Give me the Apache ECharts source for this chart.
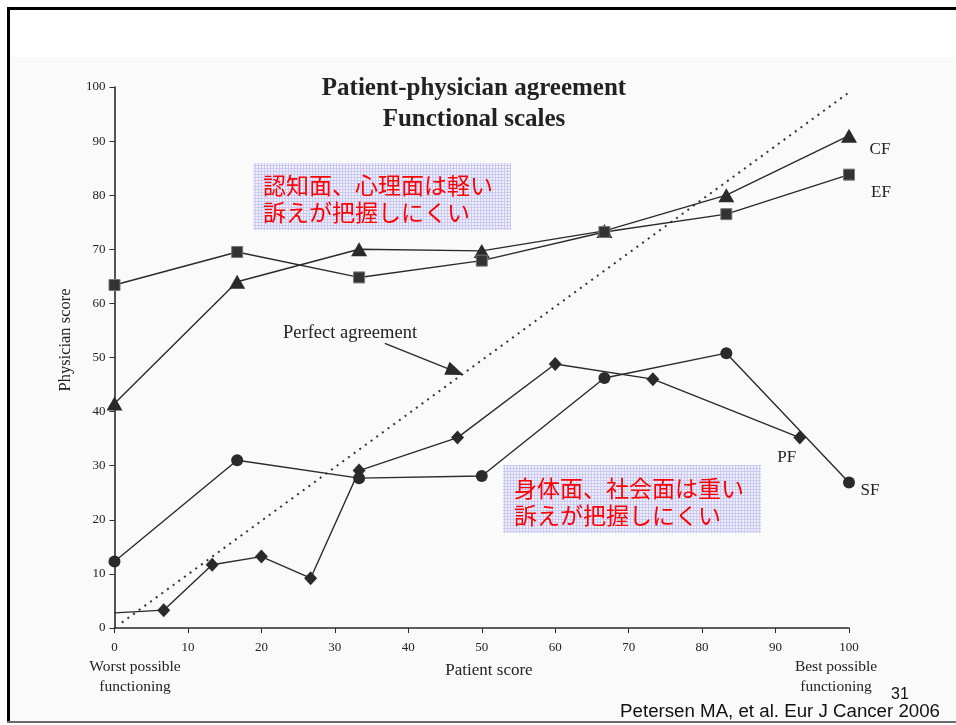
<!DOCTYPE html>
<html>
<head>
<meta charset="utf-8">
<style>
  html, body { margin: 0; padding: 0; background: #fff; }
  #chart { width: 956px; height: 725px; }
</style>
<script src="https://cdn.jsdelivr.net/npm/echarts@6/dist/echarts.min.js"></script>
</head>
<body>
<div id="chart"></div>
<script>
// Patient score levels and mean physician scores per functional scale
const cfPatient = [0, 16.7, 33.3, 50, 66.7, 83.3, 100];
const cfPhysician = [41.5, 64, 70, 69.7, 73.4, 80, 91];

const efPatient = [0, 16.7, 33.3, 50, 66.7, 83.3, 100];
const efPhysician = [63.4, 69.5, 64.8, 67.9, 73.2, 76.5, 83.8];

const sfPatient = [0, 16.7, 33.3, 50, 66.7, 83.3, 100];
const sfPhysician = [12.3, 31, 27.7, 28.1, 46.2, 50.8, 26.9];

const pfPatient = [0, 6.7, 13.3, 20, 26.7, 33.3, 46.7, 60, 73.3, 93.3];
const pfPhysician = [2.8, 3.3, 11.7, 13.2, 9.2, 29.1, 35.2, 48.8, 46, 35.2];

// Line of perfect agreement (physician score = patient score)
const agreeLine = [[1, 1], [100, 99]];
// Arrow from the "Perfect agreement" caption towards the diagonal
const arrowFrom = [36.8, 52.6];
const arrowTo = [46.4, 47.4];

const xTicks = ['0', '10', '20', '30', '40', '50', '60', '70', '80', '90', '100'];

const SERIF = '"Liberation Serif", "DejaVu Serif", serif';
const SANS = '"Liberation Sans", Arial, sans-serif';
const CJK = '"Noto Sans CJK JP", "Noto Sans CJK SC", sans-serif';
const INK = '#2a2a2a';

function pairs(xs, ys) { return xs.map((x, i) => [x, ys[i]]); }

function lastLabel(data, text, offset) {
  const out = data.map(v => ({ value: v }));
  out[out.length - 1].label = {
    show: true, formatter: text, position: 'inside', offset: offset,
    color: '#222', fontFamily: SERIF, fontSize: 17
  };
  return out;
}

// Lavender grid texture for the two note boxes
function notePattern() {
  const c = document.createElement('canvas');
  c.width = 3; c.height = 3;
  const g = c.getContext('2d');
  g.fillStyle = '#f0f0fd';
  g.fillRect(0, 0, 3, 3);
  g.fillStyle = '#c9c9f1';
  g.fillRect(0, 0, 3, 1);
  g.fillRect(0, 0, 1, 3);
  return { image: c, repeat: 'repeat' };
}

const chart = echarts.init(document.getElementById('chart'));

const pfData = lastLabel(pairs(pfPatient, pfPhysician), 'PF', [-13, 20]);
pfData[0].symbol = 'none';

const lineBase = {
  type: 'line',
  lineStyle: { color: INK, width: 1.4 },
  itemStyle: { color: INK },
  symbolKeepAspect: true,
  z: 3
};

chart.setOption({
  animation: false,
  backgroundColor: '#ffffff',
  grid: { left: 114.5, right: 107, top: 87, bottom: 97, containLabel: false },
  xAxis: {
    type: 'value', min: 0, max: 100, interval: 10,
    axisLine: { show: true, lineStyle: { color: INK, width: 1.6 } },
    axisTick: { show: true, length: 5, lineStyle: { color: INK } },
    axisLabel: {
      color: '#222', fontFamily: SERIF, fontSize: 13, margin: 13,
      formatter: (v) => xTicks[Math.round(v / 10)]
    },
    splitLine: { show: false }
  },
  yAxis: {
    type: 'value', min: 0, max: 100, interval: 10,
    axisLine: { show: true, lineStyle: { color: INK, width: 1.6 } },
    axisTick: { show: true, length: 5, lineStyle: { color: INK } },
    axisLabel: { color: '#222', fontFamily: SERIF, fontSize: 13, margin: 9 },
    splitLine: { show: false }
  },
  series: [
    {
      type: 'line', data: agreeLine, symbol: 'none', silent: true,
      lineStyle: { color: '#333', width: 2, type: [2, 5] }, z: 2,
      markLine: {
        silent: true, symbol: ['none', 'triangle'], symbolSize: [14, 18],
        lineStyle: { color: INK, width: 1.4, type: 'solid' },
        label: { show: false },
        data: [[{ coord: arrowFrom }, { coord: arrowTo }]]
      }
    },
    Object.assign({}, lineBase, {
      name: 'CF', data: lastLabel(pairs(cfPatient, cfPhysician), 'CF', [31, 14]),
      symbol: 'triangle', symbolSize: [16, 14]
    }),
    Object.assign({}, lineBase, {
      name: 'EF', data: lastLabel(pairs(efPatient, efPhysician), 'EF', [32, 18]),
      symbol: 'rect', symbolSize: 11,
      itemStyle: { color: '#333', borderColor: '#777', borderWidth: 1 }
    }),
    Object.assign({}, lineBase, {
      name: 'SF', data: lastLabel(pairs(sfPatient, sfPhysician), 'SF', [21, 8]),
      symbol: 'circle', symbolSize: 12
    }),
    Object.assign({}, lineBase, {
      name: 'PF', data: pfData,
      symbol: 'diamond', symbolSize: [13, 14]
    })
  ],
  graphic: [
    // scanned figure backdrop
    { type: 'rect', shape: { x: 10, y: 57, width: 946, height: 664 }, style: { fill: '#fafafa' }, z: -10, silent: true },
    // slide frame
    { type: 'rect', shape: { x: 7, y: 7, width: 949, height: 3 }, style: { fill: '#000' }, z: 20, silent: true },
    { type: 'rect', shape: { x: 7, y: 7, width: 3, height: 716 }, style: { fill: '#000' }, z: 20, silent: true },
    { type: 'rect', shape: { x: 7, y: 721, width: 949, height: 2 }, style: { fill: '#6a6a6a' }, z: 20, silent: true },
    // title
    { type: 'text', x: 474, y: 89, z: 10, style: { text: 'Patient-physician agreement', font: 'bold 25px ' + SERIF, fill: '#222', align: 'center', verticalAlign: 'middle' } },
    { type: 'text', x: 474, y: 120, z: 10, style: { text: 'Functional scales', font: 'bold 25px ' + SERIF, fill: '#222', align: 'center', verticalAlign: 'middle' } },
    // axis titles
    { type: 'text', x: 66, y: 340, rotation: Math.PI / 2, z: 10, style: { text: 'Physician score', font: '16.5px ' + SERIF, fill: '#222', align: 'center', verticalAlign: 'middle' } },
    { type: 'text', x: 489, y: 671, z: 10, style: { text: 'Patient score', font: '17px ' + SERIF, fill: '#222', align: 'center', verticalAlign: 'middle' } },
    { type: 'text', x: 135, y: 677, z: 10, style: { text: 'Worst possible\nfunctioning', font: '15.5px ' + SERIF, lineHeight: 20, fill: '#222', align: 'center', verticalAlign: 'middle' } },
    { type: 'text', x: 836, y: 677, z: 10, style: { text: 'Best possible\nfunctioning', font: '15.5px ' + SERIF, lineHeight: 20, fill: '#222', align: 'center', verticalAlign: 'middle' } },
    { type: 'text', x: 350, y: 333, z: 10, style: { text: 'Perfect agreement', font: '18.5px ' + SERIF, fill: '#222', align: 'center', verticalAlign: 'middle' } },
    // note boxes
    { type: 'rect', shape: { x: 253, y: 163, width: 258, height: 67 }, style: { fill: notePattern() }, z: 5, silent: true },
    { type: 'text', x: 263, y: 199, z: 6, style: { text: '認知面、心理面は軽い\n訴えが把握しにくい', font: '23px ' + CJK, lineHeight: 27, fill: '#ff0000', align: 'left', verticalAlign: 'middle' } },
    { type: 'rect', shape: { x: 503, y: 465, width: 258, height: 68 }, style: { fill: notePattern() }, z: 5, silent: true },
    { type: 'text', x: 514, y: 502, z: 6, style: { text: '身体面、社会面は重い\n訴えが把握しにくい', font: '23px ' + CJK, lineHeight: 27, fill: '#ff0000', align: 'left', verticalAlign: 'middle' } },
    // page number and citation
    { type: 'text', x: 900, y: 695, z: 10, style: { text: '31', font: '16px ' + SANS, fill: '#111', align: 'center', verticalAlign: 'middle' } },
    { type: 'text', x: 940, y: 712, z: 10, style: { text: 'Petersen MA, et al. Eur J Cancer 2006', font: '18.7px ' + SANS, fill: '#111', align: 'right', verticalAlign: 'middle' } }
  ]
});
</script>
</body>
</html>
